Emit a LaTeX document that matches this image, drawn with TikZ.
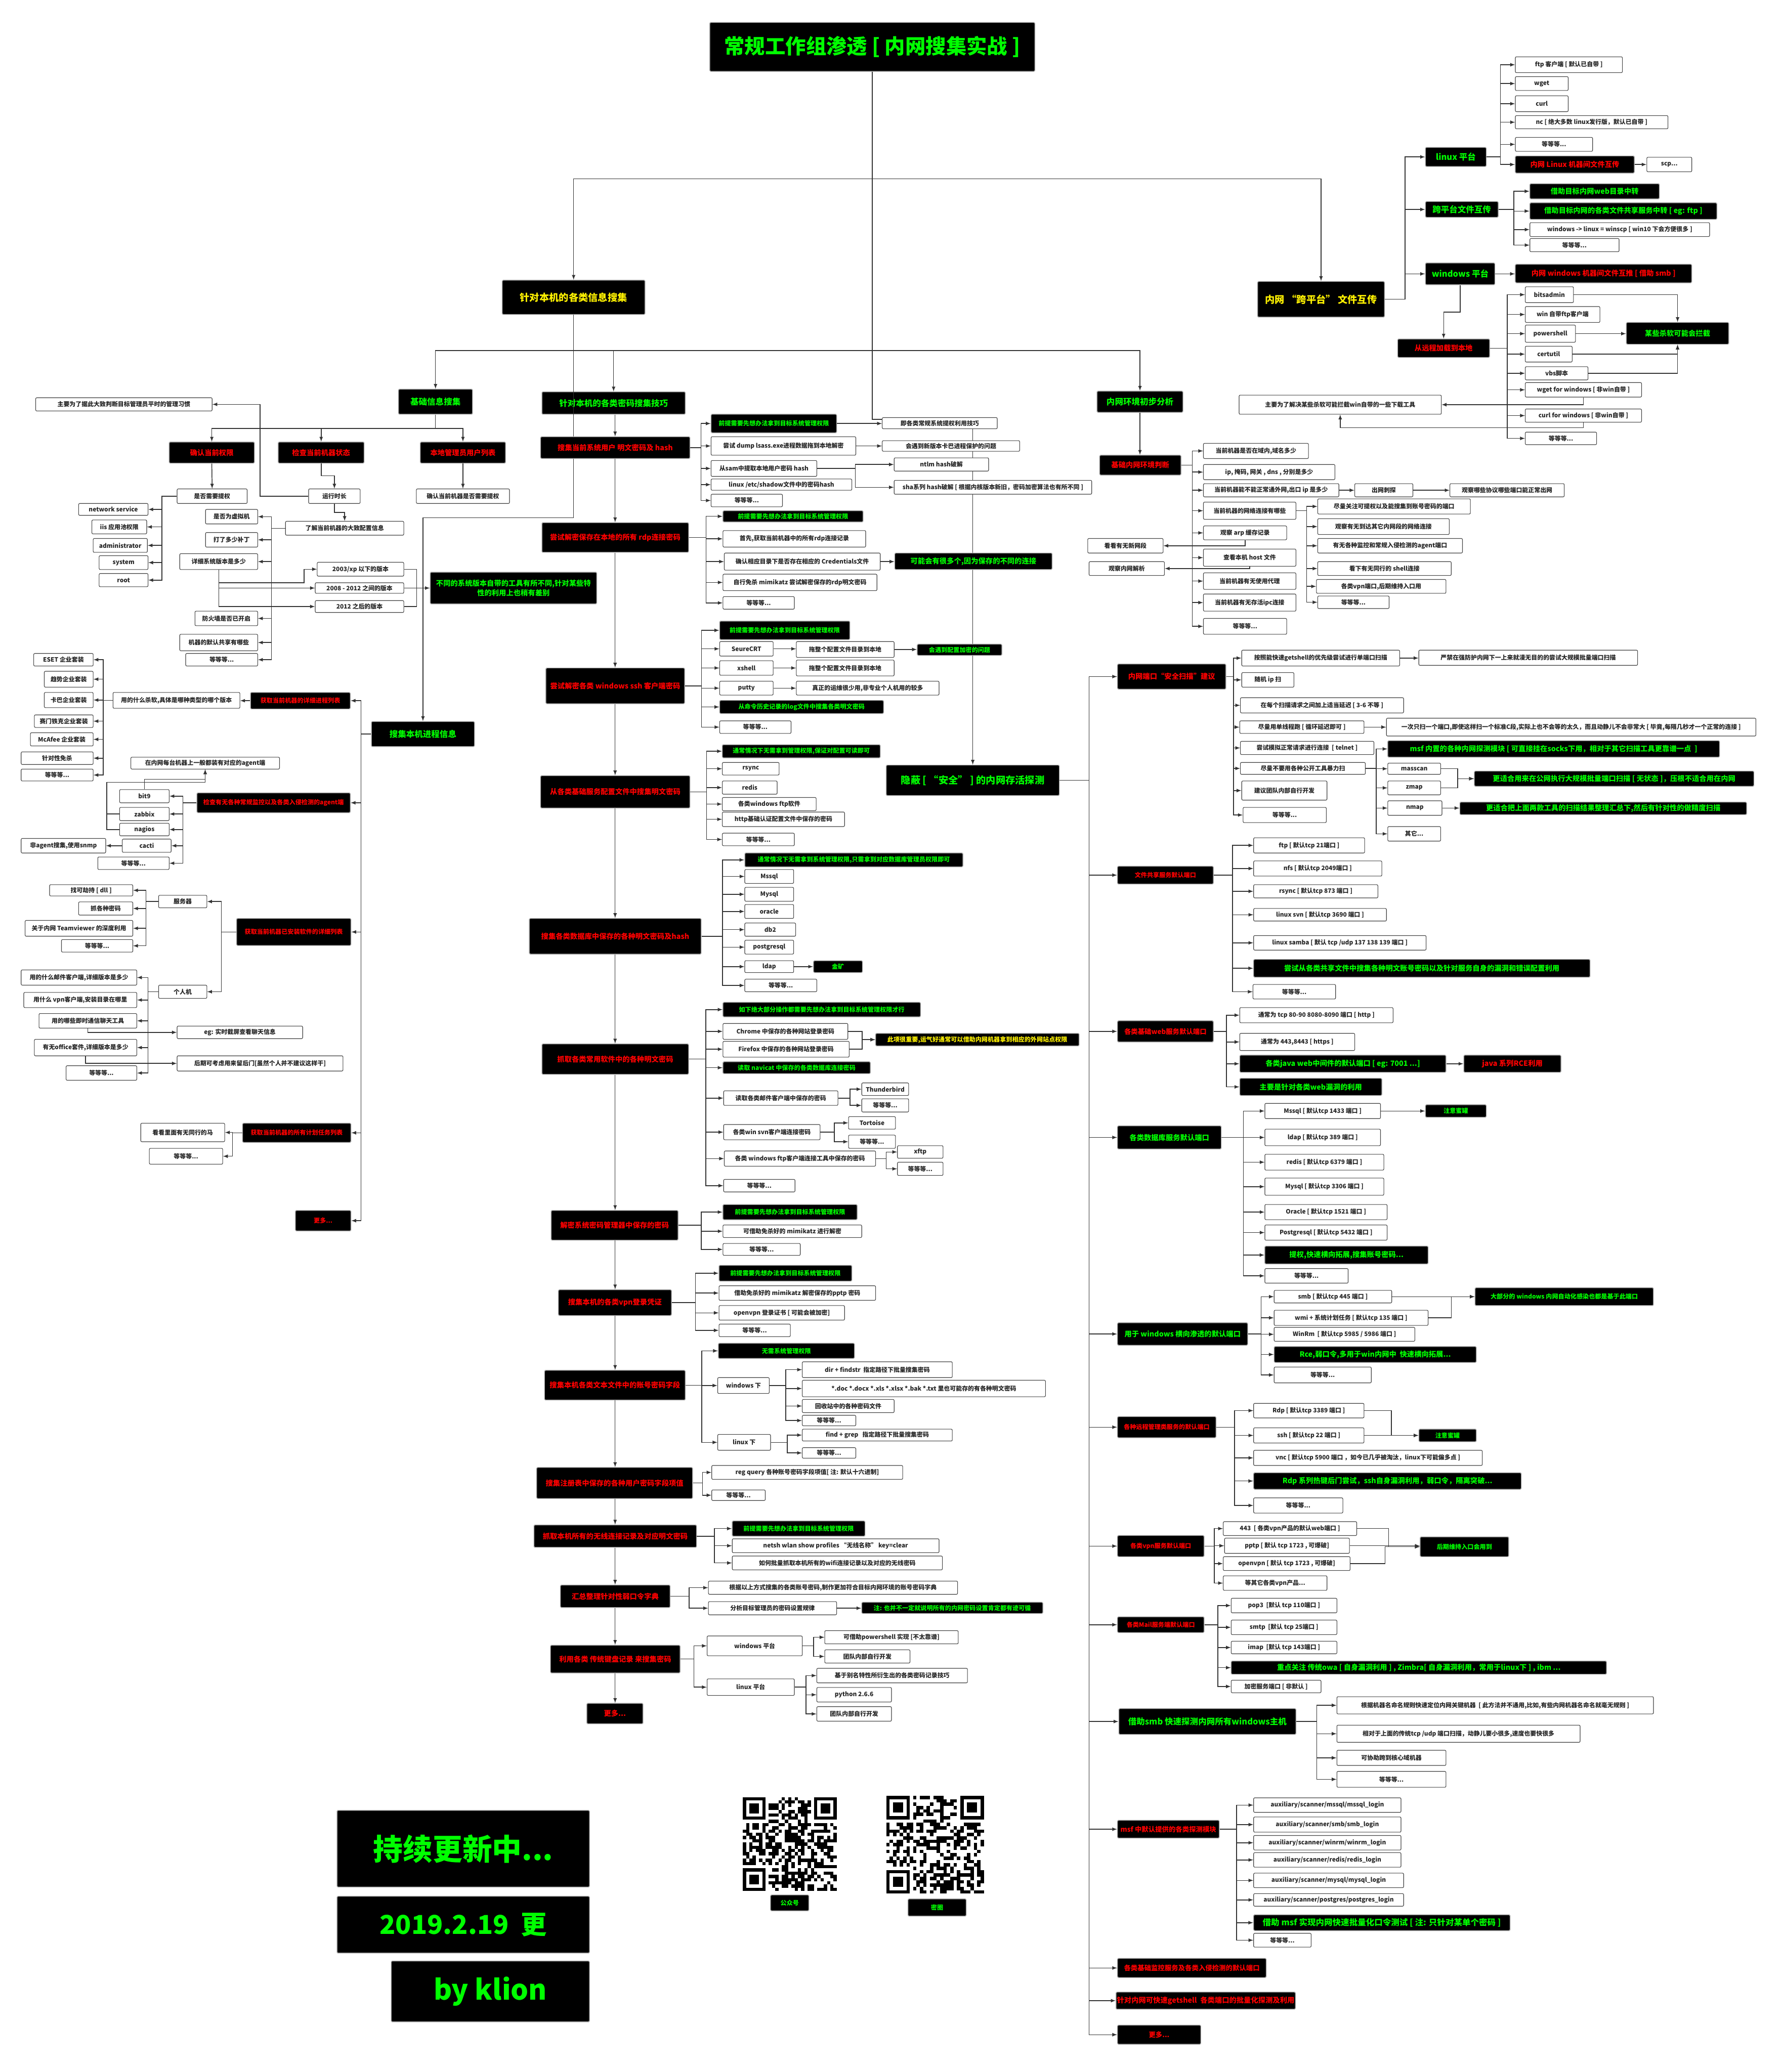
\documentclass[tikz,border=0pt]{standalone}
\usepackage{fontspec}
\setmainfont{Noto Sans CJK SC}
\usetikzlibrary{arrows}
% box from its corners (x1,y1) (x2,y2), in pixel units of the sketch
\newcommand{\bx}[7][wt]{\node[#1,minimum width={(#5-#3)*0.05cm},minimum height={(#6-#4)*0.05cm}] (#2) at ({(#3+#5)/2},{(#4+#6)/2}) {#7};}
% bus to the right / to the left of a parent, at x = #2
\newcommand{\rbus}[3]{\foreach \ch in {#3} \draw[ar] (#1.east) -- (#1.east -| #2,0) |- (\ch.west);}
\newcommand{\lbus}[3]{\foreach \ch in {#3} \draw[ar] (#1.west) -- (#1.west -| #2,0) |- (\ch.east);}
\newcommand{\hto}[2]{\draw[ar] (#1.east) -- (#1.east -| #2.west);}
\newcommand{\qrcode}[3]{%
  \begin{scope}[shift={(#1,#2)}]
    \foreach \i in {0,...,28}{\foreach \j in {0,...,28}{%
      \pgfmathtruncatemacro\q{rnd<0.5 ? 1 : 0}%
      \ifnum\q=1 \fill (\i*#3,\j*#3) rectangle ++(#3,#3);\fi}}
    \foreach \px/\py in {0/0,22/0,0/22}{%
      \fill[white] ({(\px-1)*#3},{(\py-1)*#3}) rectangle ++({9*#3},{9*#3});
      \fill ({\px*#3},{\py*#3}) rectangle ++({7*#3},{7*#3});
      \fill[white] ({(\px+1)*#3},{(\py+1)*#3}) rectangle ++({5*#3},{5*#3});
      \fill ({(\px+2)*#3},{(\py+2)*#3}) rectangle ++({3*#3},{3*#3});}
  \end{scope}}

\tikzset{
  wt/.style={draw=black!75, fill=white, rounded corners=1.2pt, line width=0.6pt, text=black!85,
    inner sep=1pt, align=center, font=\fontsize{6.5}{8}\selectfont\bfseries},
  bk/.style={draw=gray!70, fill=black, rounded corners=1pt, line width=0.8pt,
    inner sep=1pt, align=center, font=\fontsize{7.8}{10}\selectfont\bfseries},
  bkg/.style={bk, text=green},
  bkr/.style={bk, text=red},
  bky/.style={bk, text=yellow},
  t0/.style={font=\fontsize{22}{26}\selectfont\bfseries},
  t1/.style={font=\fontsize{10.5}{12}\selectfont\bfseries},
  t2/.style={font=\fontsize{9}{11}\selectfont\bfseries},
  t3/.style={font=\fontsize{7.3}{9}\selectfont\bfseries},
  t4/.style={font=\fontsize{6.6}{8}\selectfont\bfseries},
  ar/.style={draw=black!80, line width=0.8pt, -latex},
  ln/.style={draw=black!80, line width=0.8pt},
}

\begin{document}
\begin{tikzpicture}[x=0.05cm,y=-0.05cm]
    \useasboundingbox (0,0) rectangle (1349,1568);
    \fill[white] (0,0) rectangle (1349,1568);

    % --- TOP ---
    \bx[bkg,t0]{title}{537}{17}{783}{54}{常规工作组渗透 [ 内网搜集实战 ]}
    \bx[bky,t1]{info}{380}{212}{488}{238}{针对本机的各类信息搜集}
    \bx[bky,t1]{xfer}{951.5}{213}{1047.5}{240}{内网 “跨平台” 文件互传}
    \bx[bkg,t1]{hid}{670.5}{579}{801.5}{602}{隐蔽 [ “安全” ] 的内网存活探测}
    \draw[ar] (title.south) -- ++(0,81) -| (info.north);
    \draw[ar] (title.south) -- ++(0,81) -| (xfer.north);
    \draw[ar] (title.south) -- ++(0,263) -| (hid.north);

    % --- CROSS PLATFORM (TOP RIGHT) ---
    \bx[bkg,t2]{linuxp}{1078.5}{111.5}{1124.5}{126}{linux 平台}
    \bx[bkg,t2]{crossp}{1078.5}{152.5}{1133.5}{164.5}{跨平台文件互传}
    \bx[bkg,t2]{winp}{1078.5}{199}{1131}{215.5}{windows 平台}
    \rbus{xfer}{1063}{linuxp,crossp,winp}
    \bx{lftp}{1146.5}{43}{1227.5}{55}{ftp 客户端 [ 默认已自带 ]}
    \bx{lwget}{1146.5}{58}{1186.5}{68.5}{wget}
    \bx{lcurl}{1146.5}{72.5}{1186.5}{84.5}{curl}
    \bx{lnc}{1146.5}{87.5}{1262}{97.5}{nc [ 绝大多数 linux发行版，默认已自带 ]}
    \bx{letc}{1146.5}{104}{1205}{114.5}{等等等...}
    \bx[bkr]{llin}{1146.5}{118}{1236.5}{131}{内网 Linux 机器间文件互传}
    \bx{lscp}{1246}{119}{1280}{130}{scp...}
    \rbus{linuxp}{1135.2}{lftp,lwget,lcurl,lnc,letc,llin}
    \hto{llin}{lscp}
    \bx[bkg]{cweb}{1157.5}{139}{1255.5}{150.5}{借助目标内网web目录中转}
    \bx[bkg]{cshare}{1157.5}{153.5}{1299}{166}{借助目标内网的各类文件共享服务中转 [ eg: ftp ]}
    \bx{cscp}{1157.5}{168.5}{1293.5}{179}{windows -> linux = winscp [ win10 下会方便很多 ]}
    \bx{cetc}{1157.5}{180.5}{1225}{190.5}{等等等...}
    \rbus{crossp}{1145.3}{cweb,cshare,cscp,cetc}
    \bx[bkr]{wsmb}{1146.5}{200}{1280}{214}{内网 windows 机器间文件互推 [ 借助 smb ]}
    \hto{winp}{wsmb}
    \bx[bkr]{wload}{1057.5}{256.5}{1127}{270.5}{从远程加载到本地}
    \draw[ar] (winp.south) -- ++(0,20.5) -| (wload.north);
    \bx{wbits}{1154}{217}{1190.5}{229}{bitsadmin}
    \bx{wftp}{1154}{232}{1210.5}{244}{win 自带ftp客户端}
    \bx{wps}{1154}{246}{1192}{259}{powershell}
    \bx{wcert}{1154}{262}{1189.5}{274}{certutil}
    \bx{wvbs}{1154}{277.5}{1201.5}{287.5}{vbs脚本}
    \bx{wwget}{1154}{289.5}{1242}{300.5}{wget for windows [ 非win自带 ]}
    \bx{wcurl}{1154}{309.5}{1242}{319.5}{curl for windows [ 非win自带 ]}
    \bx{wetc}{1154}{327}{1208}{336.5}{等等等...}
    \rbus{wload}{1140.3}{wbits,wftp,wps,wcert,wvbs,wwget,wcurl,wetc}
    \bx[bkg]{wav}{1230.5}{244}{1308}{260.5}{某些杀软可能会拦截}
    \bx{wnote}{937.5}{299}{1090.5}{313.5}{主要为了解决某些杀软可能拦截win自带的一些下载工具}
    \draw[ar] (wbits.east) -| (wav.north);
    \hto{wps}{wav}
    \draw[ar] (wcert.east) -| (wav.south);
    \draw[ar] (wvbs.east) -| (wav.south);
    \draw[ar] (wwget.south) |- (wnote.east);
    \draw[ar] (wcurl.south) -- ++(0,4) -| (wnote.south);

    % --- LOCAL INFO (LEFT) ---
    \bx[bkg,t2]{basic}{301.5}{294.5}{357.5}{313.5}{基础信息搜集}
    \bx[bkg,t2]{pwd}{410}{296.5}{518.5}{313.5}{针对本机的各类密码搜集技巧}
    \bx[bkg,t2]{net}{830}{296}{895}{312}{内网环境初步分析}
    \bx[bkg,t2]{proc}{281}{546}{359}{565}{搜集本机进程信息}
    \foreach \ch in {basic,pwd,net} \draw[ar] (info.south) -- ++(0,27) -| (\ch.north);
    \draw[ar] (info.south) -- ++(0,153.5) -| (proc.north);

    \bx[bkr]{priv}{128}{334.5}{192.5}{350.5}{确认当前权限}
    \bx[bkr]{state}{210.5}{334.5}{275.5}{350.5}{检查当前机器状态}
    \bx[bkr]{admin}{318}{334.5}{382.5}{350.5}{本地管理员用户列表}
    \foreach \ch in {priv,state,admin} \draw[ar] (basic.south) -- ++(0,10.5) -| (\ch.north);
    \bx{needp}{134}{370}{187}{381}{是否需要提权}
    \bx{uptime}{233.5}{370}{272.5}{381}{运行时长}
    \bx{chkp}{315}{370}{385.5}{381}{确认当前机器是否需要提权}
    \draw[ar] (priv.south) -- (needp.north);
    \draw[ar] (state.south) -- ++(0,9.3) -| (uptime.north);
    \draw[ar] (admin.south) -- (chkp.north);
    \bx{habit}{27}{301}{160.5}{311}{主要为了据此大致判断目标管理员平时的管理习惯}
    \draw[ar] (uptime.west) -- ++(-36.5,0) |- (habit.east);
    \bx{cfg}{216}{394.5}{305.5}{405}{了解当前机器的大致配置信息}
    \draw[ar] (uptime.south) -- ++(0,6.5) -| (cfg.north);
    \bx{nsvc}{59.5}{381}{112}{390}{network service}
    \bx{niis}{69.5}{393.5}{111}{404}{iis 应用池权限}
    \bx{nadm}{70.5}{407.5}{111.5}{418}{administrator}
    \bx{nsys}{75}{420.5}{112}{431}{system}
    \bx{nroot}{75}{434}{112}{444}{root}
    \lbus{needp}{122.5}{nsvc,niis,nadm,nsys,nroot}
    \bx{cvm}{155.5}{385.5}{195}{396.5}{是否为虚拟机}
    \bx{cpatch}{155.5}{403}{195}{414}{打了多少补丁}
    \bx{cver}{136}{419}{195}{431}{详细系统版本是多少}
    \bx{cfw}{147.5}{462.5}{195}{473.5}{防火墙是否已开启}
    \bx{cshr}{136}{480}{195}{492.5}{机器的默认共享有哪些}
    \bx{cfgetc}{140.5}{494.5}{195}{504}{等等等...}
    \lbus{cfg}{205.3}{cvm,cpatch,cver,cfw,cshr,cfgetc}
    \bx{v03}{240}{425.5}{305.5}{436}{2003/xp 以下的版本}
    \bx{v08}{238.5}{441}{305.5}{449}{2008 - 2012 之间的版本}
    \bx{v12}{238.5}{454.5}{305.5}{463.5}{2012 之后的版本}
    \bx[bkg]{vdiff}{325.5}{433}{451.5}{457}{不同的系统版本自带的工具有所不同,针对某些特\\性的利用上也稍有差别}
    \draw[ar] (cver.south) |- (230,441) |- (v03.west);
    \draw[ar] (cver.south) |- (v08.west);
    \draw[ar] (cver.south) |- (v12.west);
    \draw[ln] (v03.east) -- (315.2,430.75) |- (v12.east);
    \hto{v08}{vdiff}

    % --- PROCESS INFO (LEFT) ---
    \bx[bkr,t4]{plist}{189.5}{524}{265}{536.5}{获取当前机器的详细进程列表}
    \bx[bkr,t4]{pagent}{149}{600}{265}{615}{检查有无各种常规监控以及各类入侵检测的agent端}
    \bx[bkr,t4]{psoft}{179}{695}{265.5}{715.5}{获取当前机器已安装软件的详细列表}
    \bx[bkr,t4]{ptask}{183.5}{850}{265.5}{864.5}{获取当前机器的所有计划任务列表}
    \bx[bkr,t4]{pmore}{223.5}{916}{265.5}{931.5}{更多...}
    \lbus{proc}{273.2}{plist,pagent,psoft,ptask,pmore}
    \bx{pav}{85.5}{524}{181.5}{536}{用的什么杀软,具体是哪种类型的哪个版本}
    \draw[ar] (plist.west) -- (plist.west -| pav.east);
    \bx{aeset}{25.5}{494.5}{70.5}{504}{ESET 企业套装}
    \bx{atrend}{33.5}{508}{70.5}{520}{趋势企业套装}
    \bx{akav}{33.5}{524}{70.5}{535.5}{卡巴企业套装}
    \bx{asym}{26}{541}{70.5}{550.5}{赛门铁克企业套装}
    \bx{amca}{23}{554.5}{70.5}{564.5}{McAfee 企业套装}
    \bx{abypass}{16}{569}{70.5}{578.5}{针对性免杀}
    \bx{aetc}{16}{582}{70.5}{591}{等等等...}
    \lbus{pav}{78.1}{aeset,atrend,akav,asym,amca,abypass,aetc}
    \bx{gbit9}{90.5}{597.5}{128}{607.5}{bit9}
    \bx{gzab}{90.5}{611}{128}{621}{zabbix}
    \bx{gnag}{90.5}{623}{128}{632.5}{nagios}
    \bx{gcacti}{92.5}{635}{129.5}{645}{cacti}
    \bx{getc}{74}{648.5}{128}{658}{等等等...}
    \lbus{pagent}{138.4}{gbit9,gzab,gnag,gcacti,getc}
    \bx{gsnmp}{16}{634.5}{80}{645.5}{非agent搜集,使用snmp}
    \bx{gnote}{99}{573}{211.5}{582}{在内网每台机器上一般都装有对应的agent端}
    \draw[ar] (gcacti.west) -- (gcacti.west -| gsnmp.east);
    \draw[ar] (gbit9.north) -- ++(0,-7.5) -| (gnote.south);
    \draw[ar] (gnag.west) -| (80.8,592) -| (gnote.south);
    \draw[ln] (gzab.west) -- ++(-9.7,0);
    \bx{ssrv}{120}{677.5}{156.5}{687}{服务器}
    \bx{spc}{120}{745.5}{156.5}{755.5}{个人机}
    \lbus{psoft}{167.5}{ssrv,spc}
    \bx{sdll}{37.5}{669.5}{100.5}{678}{找可劫持 [ dll ]}
    \bx{spass}{59.5}{682.5}{100.5}{692.5}{抓各种密码}
    \bx{stv}{19}{696.5}{100.5}{708.5}{关于内网 Teamviewer 的深度利用}
    \bx{setc}{46.5}{711}{100.5}{720.5}{等等等...}
    \lbus{ssrv}{110.5}{sdll,spass,stv,setc}
    \bx{pmail}{16}{734}{103.5}{745.5}{用的什么邮件客户端,详细版本是多少}
    \bx{pvpn}{18}{751}{103.5}{762.5}{用什么 vpn客户端,安装目录在哪里}
    \bx{pim}{29.5}{767}{103.5}{778}{用的哪些即时通信聊天工具}
    \bx{poff}{26}{786.5}{103.5}{799}{有无office套件,详细版本是多少}
    \bx{petc}{50}{806.5}{103.5}{817.5}{等等等...}
    \lbus{spc}{112}{pmail,pvpn,pim,poff,petc}
    \bx{pshot}{134}{776.5}{229}{786}{eg: 实时截屏查看聊天信息}
    \bx{pdoor}{134}{799}{259.5}{810.5}{后期可考虑用来留后门[虽然个人并不建议这样干]}
    \draw[ar] (pim.south) |- (pshot.west);
    \draw[ar] (poff.south) |- (pdoor.west);
    \bx{tmal}{106.5}{850}{170}{864}{看看里面有无同行的马}
    \bx{tetc}{113}{869}{168.5}{881}{等等等...}
    \lbus{ptask}{175.9}{tmal,tetc}

    % --- PASSWORDS (MIDDLE) ---
    \bx[bkr]{p1}{409}{330.5}{522}{347}{搜集当前系统用户 明文密码及 hash}
    \bx[bkr]{p2}{410}{395.5}{521}{418}{尝试解密保存在本地的所有 rdp连接密码}
    \bx[bkr]{p3}{413}{505.5}{518}{532.5}{尝试解密各类 windows ssh 客户端密码}
    \bx[bkr]{p4}{409}{587}{522}{611.5}{从各类基础服务配置文件中搜集明文密码}
    \bx[bkr]{p5}{400.5}{695}{530.5}{722}{搜集各类数据库中保存的各种明文密码及hash}
    \bx[bkr]{p6}{410}{790}{521}{813}{抓取各类常用软件中的各种明文密码}
    \bx[bkr]{p7}{417}{916}{513}{938.5}{解密系统密码管理器中保存的密码}
    \bx[bkr]{p8}{422.5}{976}{508}{995.5}{搜集本机的各类vpn登录凭证}
    \bx[bkr]{p9}{412}{1037}{518.5}{1059.5}{搜集本机各类文本文件中的账号密码字段}
    \bx[bkr]{p10}{406}{1110.5}{524}{1134}{搜集注册表中保存的各种用户密码字段项值}
    \bx[bkr]{p11}{404}{1154}{527}{1171}{抓取本机所有的无线连接记录及对应明文密码}
    \bx[bkr]{p12}{424}{1199.5}{507}{1216.5}{汇总整理针对性弱口令字典}
    \bx[bkr]{p13}{416.5}{1245}{514.5}{1266}{利用各类 传统键盘记录 来搜集密码}
    \bx[bkr]{p14}{444}{1289}{486.5}{1304.5}{更多...}
    \foreach \a/\b in {pwd/p1,p1/p2,p2/p3,p3/p4,p4/p5,p5/p6,p6/p7,p7/p8,p8/p9,p9/p10,p10/p11,p11/p12,p12/p13,p13/p14}
      \draw[ar] (\a.south -| 465.4,0) -- (\b.north -| 465.4,0);

    \bx[bkg,t4]{a1}{538}{313.5}{633}{327.5}{前提需要先想办法拿到目标系统管理权限}
    \bx{a2}{538}{330.5}{647.5}{344.5}{尝试 dump lsass.exe进程数据拖到本地解密}
    \bx{a3}{538}{348.5}{618}{360.5}{从sam中提取本地用户密码 hash}
    \bx{a4}{538}{362.5}{644.5}{371}{linux /etc/shadow文件中的密码hash}
    \bx{a5}{538}{374}{592}{383.5}{等等等...}
    \rbus{p1}{530.4}{a1,a2,a3,a4,a5}
    \bx{a1r}{667.5}{316}{754.5}{324.5}{即各类常规系统提权利用技巧}
    \bx{a2r}{667.5}{333.5}{771.5}{341.5}{会遇到新版本卡巴进程保护的问题}
    \bx{a3r}{676.5}{346.5}{748}{356.5}{ntlm hash破解}
    \bx{a4r}{676.5}{363.5}{826}{374}{sha系列 hash破解 [ 根据内核版本新旧，密码加密算法也有所不同 ]}
    \hto{a1}{a1r}
    \hto{a2}{a2r}
    \rbus{a3}{647.2}{a3r,a4r}

    \bx[bkg,t4]{b1}{547}{386.5}{653}{395}{前提需要先想办法拿到目标系统管理权限}
    \bx{b2}{547}{401.5}{655}{414}{首先,获取当前机器中的所有rdp连接记录}
    \bx{b3}{548}{418.5}{666}{431.5}{确认相应目录下是否存在相应的 Credentials文件}
    \bx{b4}{547}{434.5}{663.5}{447}{自行免杀 mimikatz 尝试解密保存的rdp明文密码}
    \bx{b5}{547}{451.5}{601}{461}{等等等...}
    \rbus{p2}{534.2}{b1,b2,b3,b4,b5}
    \bx[bkg]{b3r}{677}{418.5}{796}{431}{可能会有很多个,因为保存的不同的连接}
    \hto{b3}{b3r}

    \bx[bkg,t4]{c1}{544.5}{470}{643}{484}{前提需要先想办法拿到目标系统管理权限}
    \bx{c2}{544.5}{485.5}{585}{496.5}{SeureCRT}
    \bx{c3}{544.5}{500}{585}{511}{xshell}
    \bx{c4}{544.5}{515.5}{585}{526}{putty}
    \bx[bkg,t4]{c5}{544.5}{530}{668.5}{540}{从命令历史记录的log文件中搜集各类明文密码}
    \bx{c6}{544.5}{545.5}{598.5}{555}{等等等...}
    \rbus{p3}{530.8}{c1,c2,c3,c4,c5,c6}
    \bx{c2r}{602.5}{485.5}{676.5}{497.5}{拖整个配置文件目录到本地}
    \bx[bkg,t4]{c2rr}{694}{487.5}{758}{496}{会遇到配置加密的问题}
    \bx{c3r}{602.5}{499.5}{676.5}{511.5}{拖整个配置文件目录到本地}
    \bx{c4r}{602.5}{515.5}{710.5}{526}{真正的运维很少用,非专业个人机用的较多}
    \hto{c2}{c2r}
    \hto{c2r}{c2rr}
    \hto{c3}{c3r}
    \hto{c4}{c4r}

    \bx[bkg,t4]{d1}{546.5}{563.5}{666}{573.5}{通常情况下无需拿到管理权限,保证对配置可读即可}
    \bx{d2}{546.5}{577}{589.5}{586.5}{rsync}
    \bx{d3}{546.5}{591}{588}{601}{redis}
    \bx{d4}{546.5}{603.5}{617.5}{613.5}{各类windows ftp软件}
    \bx{d5}{546.5}{614.5}{639}{625.5}{http基础认证配置文件中保存的密码}
    \bx{d6}{546.5}{630.5}{601}{640}{等等等...}
    \rbus{p4}{534.6}{d1,d2,d3,d4,d5,d6}

    \bx[bkg,t4]{e1}{563.5}{645.5}{728.5}{656}{通常情况下无需拿到系统管理权限,只需拿到对应数据库管理员权限即可}
    \bx{e2}{563.5}{658}{600.5}{668.5}{Mssql}
    \bx{e3}{563.5}{671.5}{600.5}{682}{Mysql}
    \bx{e4}{563.5}{684.5}{600.5}{695}{oracle}
    \bx{e5}{563.5}{698.5}{602}{708.5}{db2}
    \bx{e6}{563.5}{711.5}{600.5}{722}{postgresql}
    \bx{e7}{563.5}{727}{600.5}{736}{ldap}
    \bx{e8}{563.5}{741}{618}{750.5}{等等等...}
    \rbus{p5}{546.7}{e1,e2,e3,e4,e5,e6,e7,e8}
    \bx[bkg,t4]{e7r}{615.5}{727}{652.5}{736}{金矿}
    \hto{e7}{e7r}

    \bx[bkg,t4]{f1}{547}{758.5}{696.5}{769.5}{如下绝大部分操作都需要先想办法拿到目标系统管理权限才行}
    \bx{f2}{547}{774.5}{641.5}{786.5}{Chrome 中保存的各种网站登录密码}
    \bx{f3}{547}{788}{642.5}{800}{Firefox 中保存的各种网站登录密码}
    \bx[bkg,t4]{f4}{547}{803.5}{658.5}{812.5}{读取 navicat 中保存的各类数据库连接密码}
    \bx{f5}{547.5}{825.5}{634}{836.5}{读取各类邮件客户端中保存的密码}
    \bx{f6}{547.5}{851}{620.5}{862.5}{各类win svn客户端连接密码}
    \bx{f7}{548}{871}{662.5}{882.5}{各类 windows ftp客户端连接工具中保存的密码}
    \bx{f8}{547.5}{892.5}{601.5}{902}{等等等...}
    \rbus{p6}{534}{f1,f2,f3,f4,f5,f6,f7,f8}
    \bx[bky,t4]{f23r}{662.5}{782}{816.5}{791.5}{此项很重要,运气好通常可以借助内网机器拿到相应的外网站点权限}
    \draw[ar] (f2.east) -- ++(10.6,0) |- (f23r.west);
    \draw[ar] (f3.east) -- ++(9.6,0) |- (f23r.west);
    \bx{f5a}{652}{819.5}{687.5}{829}{Thunderbird}
    \bx{f5b}{652}{831.5}{687.5}{841.5}{等等等...}
    \rbus{f5}{643.1}{f5a,f5b}
    \bx{f6a}{642}{845}{677.5}{854.5}{Tortoise}
    \bx{f6b}{642}{859}{677.5}{869}{等等等...}
    \rbus{f6}{631.3}{f6a,f6b}
    \bx{f7a}{679}{867}{713.5}{876.5}{xftp}
    \bx{f7b}{679}{879.5}{713.5}{889.5}{等等等...}
    \rbus{f7}{670.5}{f7a,f7b}

    \bx[bkg,t4]{g1}{547}{911.5}{648.5}{923}{前提需要先想办法拿到目标系统管理权限}
    \bx{g2}{547}{927}{652}{936.5}{可借助免杀好的 mimikatz 进行解密}
    \bx{g3}{547}{941}{605.5}{950}{等等等...}
    \rbus{p7}{530.5}{g1,g2,g3}

    \bx[bkg,t4]{h1}{544}{957.5}{644.5}{969.5}{前提需要先想办法拿到目标系统管理权限}
    \bx{h2}{544}{973}{662.5}{984}{借助免杀好的 mimikatz 解密保存的pptp 密码}
    \bx{h3}{544}{988}{639}{999}{openvpn 登录证书 [ 可能会被加密]}
    \bx{h4}{544}{1002}{598}{1011.5}{等等等...}
    \rbus{p8}{526.1}{h1,h2,h3,h4}

    \bx[bkg,t4]{i1}{543.5}{1016.5}{646.5}{1028}{无需系统管理权限}
    \bx{iwin}{543}{1042.5}{582}{1054.5}{windows 下}
    \bx{ilin}{543}{1085.5}{583}{1097.5}{linux 下}
    \rbus{p9}{531}{i1,iwin,ilin}
    \bx{iw1}{607}{1030.5}{720.5}{1042.5}{dir + findstr \ 指定路径下批量搜集密码}
    \bx{iw2}{607}{1044.5}{791}{1057}{*.doc *.docx *.xls *.xlsx *.bak *.txt 里也可能存的有各种明文密码}
    \bx{iw3}{607}{1059}{676.5}{1069}{回收站中的各种密码文件}
    \bx{iw4}{607}{1071}{647.5}{1079}{等等等...}
    \rbus{iwin}{594.5}{iw1,iw2,iw3,iw4}
    \bx{il1}{607}{1081.5}{720.5}{1090.5}{find + grep \ \ 指定路径下批量搜集密码}
    \bx{il2}{607}{1095.5}{647.5}{1103.5}{等等等...}
    \rbus{ilin}{595.6}{il1,il2}

    \bx{j1}{538.5}{1109}{683}{1119.5}{reg query 各种账号密码字段项值[ 注: 默认十六进制]}
    \bx{j2}{538.5}{1127.5}{579}{1135.5}{等等等...}
    \rbus{p10}{531.6}{j1,j2}

    \bx[bkg,t4]{k1}{554}{1151}{654.5}{1162.5}{前提需要先想办法拿到目标系统管理权限}
    \bx{k2}{554}{1164.5}{710.5}{1175}{netsh wlan show profiles “无线名称” key=clear}
    \bx{k3}{554}{1177.5}{713}{1188}{如何批量抓取本机所有的wifi连接记录以及对应的无线密码}
    \rbus{p11}{540.6}{k1,k2,k3}

    \bx{l1}{536}{1196.5}{724.5}{1206.5}{根据以上方式搜集的各类账号密码,制作更加符合目标内网环境的账号密码字典}
    \bx{l2}{536}{1212}{633}{1222}{分析目标管理员的密码设置规律}
    \rbus{p12}{521.4}{l1,l2}
    \bx[bkg,t4]{l2r}{652}{1212.5}{789}{1221}{注: 也并不一定就说明所有的内网密码设置肯定都有迹可循}
    \hto{l2}{l2r}

    \bx{m1}{535}{1238}{607}{1253}{windows 平台}
    \bx{m2}{535}{1270.5}{601}{1283}{linux 平台}
    \rbus{p13}{525}{m1,m2}
    \bx{m1a}{624}{1234}{725}{1244}{可借助powershell 实现 [不太靠谱]}
    \bx{m1b}{624}{1248.5}{688.5}{1258.5}{团队内部自行开发}
    \rbus{m1}{615.6}{m1a,m1b}
    \bx{m2a}{618}{1262.5}{732}{1273.5}{基于别名特性所衍生出的各类密码记录技巧}
    \bx{m2b}{618}{1277}{674.5}{1288}{python 2.6.6}
    \bx{m2c}{618}{1291.5}{674.5}{1302.5}{团队内部自行开发}
    \rbus{m2}{609.9}{m2a,m2b,m2c}

    % --- NETWORK (RIGHT) ---
    \bx[bkr]{n0}{832}{344.5}{893.5}{359.5}{基础内网环境判断}
    \draw[ar] (net.south) -- (net.south |- n0.north);
    \bx{n1}{910.5}{335.5}{990}{347}{当前机器是否在域内,域名多少}
    \bx{n2}{910.5}{351.5}{1010}{363}{ip, 掩码, 网关 , dns , 分别是多少}
    \bx{n3}{910.5}{366}{1013}{376}{当前机器能不能正常通外网,出口 ip 是多少}
    \bx{n4}{910.5}{380}{980.5}{393}{当前机器的网络连接有哪些}
    \bx{n5}{910.5}{398}{973.5}{408.5}{观察 arp 缓存记录}
    \bx{n6}{910.5}{415.5}{980.5}{428.5}{查看本机 host 文件}
    \bx{n7}{910.5}{433.5}{980.5}{446}{当前机器有无使用代理}
    \bx{n8}{910.5}{449.5}{980.5}{462.5}{当前机器有无存活ipc连接}
    \bx{n9}{910.5}{468}{973.5}{480}{等等等...}
    \rbus{n0}{902}{n1,n2,n3,n4,n5,n6,n7,n8,n9}
    \bx{n3a}{1025}{366}{1069}{376}{出网刺探}
    \bx{n3b}{1097}{366}{1183.5}{376}{观察哪些协议哪些端口能正常出网}
    \hto{n3}{n3a}
    \hto{n3a}{n3b}
    \bx{n4a}{997}{377.5}{1112.5}{389}{尽量关注可提权以及能搜集到账号密码的端口}
    \bx{n4b}{997}{392.5}{1096.5}{404.5}{观察有无到达其它内网段的网络连接}
    \bx{n4c}{997}{407.5}{1106.5}{418.5}{有无各种监控和常规入侵检测的agent端口}
    \bx{n4d}{997}{425}{1098}{435.5}{看下有无同行的 shell连接}
    \bx{n4e}{996}{438.5}{1094}{449}{各类vpn端口,后期维持入口用}
    \bx{n4f}{997}{451}{1051}{460.5}{等等等...}
    \rbus{n4}{988.5}{n4a,n4b,n4c,n4d,n4e,n4f}
    \bx{n5l}{823}{407.5}{880}{418.5}{看看有无新网段}
    \bx{n6l}{824}{425}{881}{435.5}{观察内网解析}
    \draw[ar] (n5.south) |- (n5l.east);
    \draw[ar] (n6.south) |- (n6l.east);

    % --- LIVE HOSTS (RIGHT) ---
    \bx[bkr]{s1}{845.5}{502.5}{927.5}{521.5}{内网端口“安全扫描”建议}
    \bx[bkr,t4]{s2}{845.5}{655.5}{918}{669}{文件共享服务默认端口}
    \bx[bkr,t3]{s3}{845.5}{772.5}{918}{788.5}{各类基础web服务默认端口}
    \bx[bkg]{s4}{845.5}{852}{924}{869.5}{各类数据库服务默认端口}
    \bx[bkg]{s5}{845.5}{1001}{944}{1018}{用于 windows 横向渗透的默认端口}
    \bx[bkr,t4]{s6}{845.5}{1072}{920}{1088}{各种远程管理类服务的默认端口}
    \bx[bkr,t4]{s7}{845.5}{1162}{911}{1178}{各类vpn服务默认端口}
    \bx[bkr,t4]{s8}{845.5}{1223.5}{911}{1235.5}{各类Mail服务端默认端口}
    \bx[bkg,t2]{s9}{846.5}{1293}{980.5}{1312.5}{借助smb 快速探测内网所有windows主机}
    \bx[bkr,t3]{s10}{845.5}{1377.5}{922.5}{1391}{msf 中默认提供的各类探测模块}
    \bx[bkr,t3]{s11}{845.5}{1482}{958}{1496.5}{各类基础监控服务及各类入侵检测的默认端口}
    \bx[bkr]{s12}{845.5}{1507.5}{979}{1520.5}{针对内网可快速getshell \ 各类端口的批量化探测及利用}
    \bx[bkr,t3]{s13}{845.5}{1532.5}{908.5}{1547}{更多...}
    \draw[ln] (hid.east) -- (hid.east -| 823.9,0);
    \draw[ln] (s1.west -| 823.9,0) -- (s13.west -| 823.9,0);
    \foreach \ch in {s1,s2,s3,s4,s5,s6,s7,s8,s9,s10,s11,s12,s13}
      \draw[ar] (\ch.west -| 823.9,0) -- (\ch.west);

    \bx{s1a}{939.5}{492}{1059}{504}{按照能快速getshell的优先级尝试进行单端口扫描}
    \bx{s1b}{939.5}{509}{979}{520}{随机 ip 扫}
    \bx{s1c}{938.5}{528}{1062}{539.5}{在每个扫描请求之间加上适当延迟 [ 3-6 不等 ]}
    \bx{s1d}{938}{545.5}{1032}{555}{尽量用单线程跑 [ 循环延迟即可 ]}
    \bx{s1e}{938.5}{561}{1039.5}{571}{尝试模拟正常请求进行连接 \ [ telnet ]}
    \bx{s1f}{938.5}{577}{1033}{586}{尽量不要用各种公开工具暴力扫}
    \bx{s1g}{939.5}{591}{1004}{605.5}{建议团队内部自行开发}
    \bx{s1h}{940.5}{611}{1003.5}{622.5}{等等等...}
    \rbus{s1}{933.3}{s1a,s1b,s1c,s1d,s1e,s1f,s1g,s1h}
    \bx{s1ar}{1073.5}{492}{1239}{503.5}{严禁在强防护内网下一上来就漫无目的的尝试大规模批量端口扫描}
    \bx{s1dr}{1049}{543.5}{1328.5}{557}{一次只扫一个端口,即使这样扫一个标准C段,实际上也不会等的太久，而且动静儿不会非常大 [ 毕竟,每隔几秒才一个正常的连接 ]}
    \hto{s1a}{s1ar}
    \hto{s1d}{s1dr}
    \bx[bkg]{s1f1}{1050}{560.5}{1301}{573}{msf 内置的各种内网探测模块 [ 可直接挂在socks下用，相对于其它扫描工具更靠谱一点 \ ]}
    \bx{s1f2}{1050}{577.5}{1090}{586}{masscan}
    \bx{s1f3}{1050}{591}{1090}{601.5}{zmap}
    \bx{s1f4}{1050}{606}{1091}{617}{nmap}
    \bx{s1f5}{1050}{625.5}{1090}{636.5}{其它...}
    \rbus{s1f}{1041.3}{s1f1,s1f2,s1f3,s1f4,s1f5}
    \bx[bkg]{s1f23}{1115.5}{583.5}{1327}{595}{更适合用来在公网执行大规模批量端口扫描 [ 无状态 ]，压根不适合用在内网}
    \bx[bkg]{s1f4r}{1104.5}{607}{1321.5}{616.5}{更适合把上面两款工具的扫描结果整理汇总下,然后有针对性的做精度扫描}
    \draw[ar] (s1f2.east) -- ++(12.6,0) |- (s1f23.west);
    \draw[ar] (s1f3.east) -- ++(12.6,0) |- (s1f23.west);
    \hto{s1f4}{s1f4r}

    \bx{s2a}{948.5}{634}{1032.5}{645.5}{ftp [ 默认tcp 21端口 ]}
    \bx{s2b}{948.5}{651.5}{1045.5}{663}{nfs [ 默认tcp 2049端口 ]}
    \bx{s2c}{948.5}{669.5}{1042.5}{679.5}{rsync [ 默认tcp 873 端口 ]}
    \bx{s2d}{948.5}{687.5}{1049}{697}{linux svn [ 默认tcp 3690 端口 ]}
    \bx{s2e}{948.5}{708}{1079}{719}{linux samba [ 默认 tcp /udp 137 138 139 端口 ]}
    \bx[bkg]{s2f}{948.5}{726}{1203}{739.5}{尝试从各类共享文件中搜集各种明文账号密码以及针对服务自身的漏洞和错误配置利用}
    \bx{s2g}{948}{745}{1010.5}{756}{等等等...}
    \rbus{s2}{932.6}{s2a,s2b,s2c,s2d,s2e,s2f,s2g}

    \bx{s3a}{938}{762.5}{1054}{774}{通常为 tcp 80-90 8080-8090 端口 [ http ]}
    \bx{s3b}{938}{782}{1025}{795}{通常为 443,8443 [ https ]}
    \bx[bkg]{s3c}{938}{798.5}{1094}{811.5}{各类java web中间件的默认端口 [ eg: 7001 ...]}
    \bx[bkg]{s3d}{938}{816}{1045.5}{829}{主要是针对各类web漏洞的利用}
    \rbus{s3}{927.9}{s3a,s3b,s3c,s3d}
    \bx[bkr]{s3cr}{1107.5}{798.5}{1181}{811.5}{java 系列RCE利用}
    \hto{s3c}{s3cr}

    \bx{s4a}{957}{835}{1044.5}{846.5}{Mssql [ 默认tcp 1433 端口 ]}
    \bx{s4b}{957}{854.5}{1044.5}{867}{ldap [ 默认tcp 389 端口 ]}
    \bx{s4c}{957}{873.5}{1047}{885.5}{redis [ 默认tcp 6379 端口 ]}
    \bx{s4d}{957}{891.5}{1047}{904.5}{Mysql [ 默认tcp 3306 端口 ]}
    \bx{s4e}{957}{911.5}{1049.5}{923}{Oracle [ 默认tcp 1521 端口 ]}
    \bx{s4f}{957}{927}{1049.5}{938.5}{Postgresql [ 默认tcp 5432 端口 ]}
    \bx[bkg]{s4g}{957}{943}{1080.5}{956.5}{提权,快速横向拓展,搜集账号密码...}
    \bx{s4h}{957}{960}{1020}{971}{等等等...}
    \rbus{s4}{940.7}{s4a,s4b,s4c,s4d,s4e,s4f,s4g,s4h}
    \bx[bkg,t4]{s4ar}{1078.5}{836}{1124.5}{845.5}{注意蜜罐}
    \hto{s4a}{s4ar}

    \bx{s5a}{964}{976.5}{1053}{986}{smb [ 默认tcp 445 端口 ]}
    \bx{s5b}{964}{991.5}{1080.5}{1003}{wmi + 系统计划任务 [ 默认tcp 135 端口 ]}
    \bx{s5c}{964}{1004.5}{1070.5}{1015}{WinRm \ [ 默认tcp 5985 / 5986 端口 ]}
    \bx[bkg]{s5d}{964}{1019}{1117}{1031}{Rce,弱口令,多用于win内网中 \ 快速横向拓展...}
    \bx{s5e}{964}{1034.5}{1037.5}{1046.5}{等等等...}
    \rbus{s5}{954.2}{s5a,s5b,s5c,s5d,s5e}
    \bx[bkg,t4]{s5r}{1116}{974.5}{1251}{988}{大部分的 windows 内网自动化感染也都是基于此端口}
    \hto{s5a}{s5r}
    \draw[ar] (s5b.east) -- ++(17.4,0) |- (s5r.west);

    \bx{s6a}{948.5}{1062}{1032}{1073}{Rdp [ 默认tcp 3389 端口 ]}
    \bx{s6b}{948.5}{1080.5}{1032}{1092}{ssh [ 默认tcp 22 端口 ]}
    \bx{s6c}{948.5}{1097.5}{1121.5}{1109}{vnc [ 默认tcp 5900 端口 ，如今已几乎被淘汰，linux下可能偏多点 ]}
    \bx[bkg]{s6d}{948.5}{1114.5}{1151}{1127}{Rdp 系列热键后门尝试，ssh自身漏洞利用，弱口令，隔离突破...}
    \bx{s6e}{948.5}{1133.5}{1016}{1145}{等等等...}
    \rbus{s6}{934}{s6a,s6b,s6c,s6d,s6e}
    \bx[bkg,t4]{s6r}{1073.5}{1081.5}{1117}{1091}{注意蜜罐}
    \draw[ar] (s6a.east) -- ++(20.5,0) |- (s6r.west);
    \hto{s6b}{s6r}

    \bx{s7a}{925.5}{1151.5}{1026.5}{1162}{443 \ [ 各类vpn产品的默认web端口 ]}
    \bx{s7b}{926.5}{1164}{1021}{1175.5}{pptp [ 默认 tcp 1723 , 可爆破]}
    \bx{s7c}{925.5}{1178}{1021.5}{1188.5}{openvpn [ 默认 tcp 1723 , 可爆破]}
    \bx{s7d}{925.5}{1192.5}{1004}{1203.5}{等其它各类vpn产品...}
    \rbus{s7}{918.8}{s7a,s7b,s7c,s7d}
    \bx[bkg,t4]{s7r}{1074.5}{1163}{1141.5}{1178}{后期维持入口会用到}
    \draw[ar] (s7a.east) -- ++(24,0) |- (s7r.west);
    \hto{s7b}{s7r}
    \draw[ar] (s7c.east) -- ++(26.2,0) |- (s7r.west);

    \bx{s8a}{931.5}{1209.5}{1011.5}{1220.5}{pop3 \ [默认 tcp 110端口 ]}
    \bx{s8b}{931.5}{1226}{1011.5}{1237}{smtp \ [默认 tcp 25端口 ]}
    \bx{s8c}{931.5}{1242}{1011.5}{1251.5}{imap \ [默认 tcp 143端口 ]}
    \bx[bkg]{s8d}{931.5}{1257}{1215.5}{1267}{重点关注 传统owa [ 自身漏洞利用 ] , Zimbra[ 自身漏洞利用，常用于linux下 ] , ibm ...}
    \bx{s8e}{931.5}{1271.5}{999.5}{1281}{加密服务端口 [ 非默认 ]}
    \rbus{s8}{921.5}{s8a,s8b,s8c,s8d,s8e}

    \bx{s9a}{1011.5}{1284}{1251}{1297}{根据机器名命名规则快速定位内网关键机器 \ [ 此方法并不通用,比如,有些内网机器名命名就毫无规则 ]}
    \bx{s9b}{1011.5}{1305.5}{1195.5}{1318.5}{相对于上面的传统tcp /udp 端口扫描，动静儿要小很多,速度也要快很多}
    \bx{s9c}{1011.5}{1324.5}{1094}{1336}{可协助跨到核心域机器}
    \bx{s9d}{1011.5}{1340.5}{1094}{1352.5}{等等等...}
    \rbus{s9}{996.2}{s9a,s9b,s9c,s9d}

    \bx{s10a}{948.5}{1360.5}{1060}{1371.5}{auxiliary/scanner/mssql/mssql\_login}
    \bx{s10b}{948.5}{1375}{1060}{1386.5}{auxiliary/scanner/smb/smb\_login}
    \bx{s10c}{948.5}{1389}{1060}{1400}{auxiliary/scanner/winrm/winrm\_login}
    \bx{s10d}{948.5}{1402}{1060}{1413}{auxiliary/scanner/redis/redis\_login}
    \bx{s10e}{948.5}{1417.5}{1062}{1428.5}{auxiliary/scanner/mysql/mysql\_login}
    \bx{s10f}{948.5}{1433}{1062}{1442.5}{auxiliary/scanner/postgres/postgres\_login}
    \bx[bkg,t2]{s10g}{948.5}{1449}{1142.5}{1461}{借助 msf 实现内网快速批量化口令测试 [ 注: 只针对某单个密码 ]}
    \bx{s10h}{948.5}{1463}{992}{1473.5}{等等等...}
    \rbus{s10}{935.6}{s10a,s10b,s10c,s10d,s10e,s10f,s10g,s10h}

    % --- FOOTER (BOTTOM LEFT) ---
    \bx[bkg]{upd}{255}{1370}{446}{1428}{\fontsize{32}{36}\selectfont 持续更新中...}
    \bx[bkg]{date}{255}{1435}{446}{1478}{\fontsize{28}{32}\selectfont 2019.2.19 \ 更}
    \bx[bkg]{by}{296}{1484}{446}{1530}{\fontsize{30}{34}\selectfont by klion}
    \pgfmathsetseed{7}
    \qrcode{562}{1360}{2.45}
    \qrcode{670.5}{1359}{2.55}
    \bx[bkg,t4]{qa}{583}{1434}{612}{1446}{公众号}
    \bx[bkg,t4]{qb}{687}{1437}{731}{1450}{密圈}
\end{tikzpicture}
\end{document}
